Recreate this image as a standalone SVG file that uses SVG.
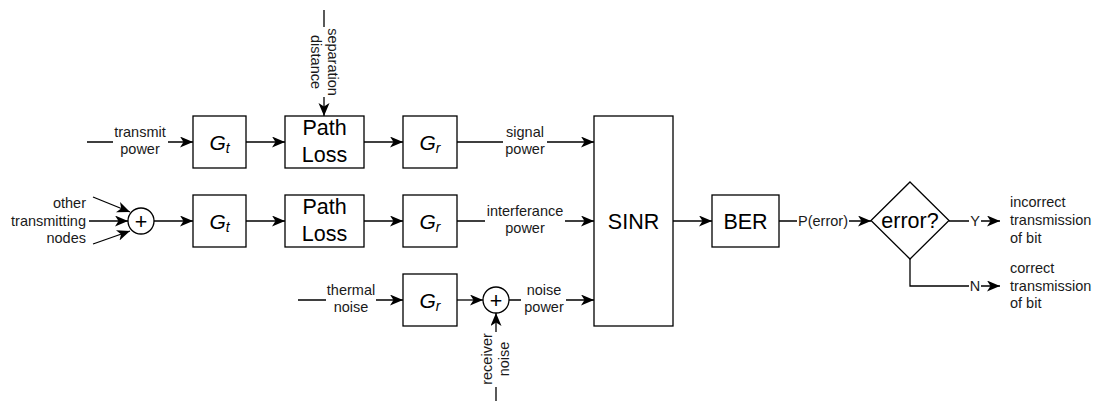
<svg xmlns="http://www.w3.org/2000/svg" width="1102" height="403" viewBox="0 0 1102 403">
<defs>
<marker id="arr" markerUnits="userSpaceOnUse" markerWidth="14" markerHeight="12" refX="13" refY="5.5" orient="auto">
<path d="M0,0 L13,5.5 L0,11 L3.5,5.5 Z" fill="#000"/>
</marker>
<style>
.box{fill:#fff;stroke:#000;stroke-width:1.3}
.ln{fill:none;stroke:#000;stroke-width:1.3}
.ar{fill:none;stroke:#000;stroke-width:1.3;marker-end:url(#arr)}
.s{font-family:"Liberation Sans",Arial,sans-serif;font-size:14.5px;fill:#1a1a1a}
.b{font-family:"Liberation Sans",Arial,sans-serif;font-size:21.5px;fill:#000}
.g{font-family:"Liberation Sans",Arial,sans-serif;font-size:21px;font-style:italic;fill:#000}
.m{text-anchor:middle}
.e{text-anchor:end}
</style>
</defs>
<rect width="1102" height="403" fill="#fff"/>

<g id="connectors">
<path class="ar" d="M87,142 L113,142 M168,142 L193,142"/>
<path class="ar" d="M246,142 L285,142"/>
<path class="ar" d="M364,142 L403,142"/>
<path class="ar" d="M457,142 L503,142 M547,142 L594,142"/>
<path class="ln" d="M324,10 L324,27"/>
<path class="ar" d="M324,97 L324,116"/>
<path class="ar" d="M93,197 L130,212"/>
<path class="ar" d="M89,221 L128,221"/>
<path class="ar" d="M93,244 L130,231"/>
<path class="ar" d="M154,221 L193,221"/>
<path class="ar" d="M246,221 L285,221"/>
<path class="ar" d="M364,221 L403,221"/>
<path class="ar" d="M457,221 L485,221 M565,221 L594,221"/>
<path class="ar" d="M298,300 L326,300 M376,300 L403,300"/>
<path class="ar" d="M457,300 L483,300"/>
<path class="ar" d="M509,300 L521,300 M566,300 L594,300"/>
<path class="ln" d="M496,387 L496,401"/>
<path class="ar" d="M496,332 L496,313"/>
<path class="ar" d="M673,221 L712,221"/>
<path class="ar" d="M779,221 L797,221 M849,221 L871,221"/>
<path class="ar" d="M949,221 L969,221 M981,221 L1000,221"/>
<path class="ar" d="M910,259 L910,286 L969,286 M981,286 L1000,286"/>
</g>

<g id="label-transmit-power"><text class="s m" x="140" y="137">transmit</text><text class="s m" x="140" y="154">power</text></g>
<g id="label-separation-distance" transform="translate(324,62) rotate(90)"><text class="s m" x="0" y="-4">separation</text><text class="s m" x="0" y="13">distance</text></g>
<g id="label-signal-power"><text class="s m" x="525" y="137">signal</text><text class="s m" x="525" y="154">power</text></g>
<g id="label-other-nodes"><text class="s e" x="86" y="208">other</text><text class="s e" x="86" y="226">transmitting</text><text class="s e" x="86" y="243">nodes</text></g>
<g id="label-interference-power"><text class="s m" x="525" y="216">interferance</text><text class="s m" x="525" y="233">power</text></g>
<g id="label-thermal-noise"><text class="s m" x="351" y="295">thermal</text><text class="s m" x="351" y="312">noise</text></g>
<g id="label-noise-power"><text class="s m" x="544" y="295">noise</text><text class="s m" x="544" y="312">power</text></g>
<g id="label-receiver-noise" transform="translate(496,359) rotate(-90)"><text class="s m" x="0" y="-4">receiver</text><text class="s m" x="0" y="13">noise</text></g>
<g id="label-perror"><text class="s m" x="823" y="226">P(error)</text></g>
<g id="label-y"><text class="s m" x="975" y="226">Y</text></g>
<g id="label-n"><text class="s m" x="975" y="291">N</text></g>
<g id="label-incorrect"><text class="s" x="1010" y="207">incorrect</text><text class="s" x="1010" y="225">transmission</text><text class="s" x="1010" y="243">of bit</text></g>
<g id="label-correct"><text class="s" x="1010" y="273">correct</text><text class="s" x="1010" y="291">transmission</text><text class="s" x="1010" y="308">of bit</text></g>

<g id="gt1"><rect class="box" x="193" y="116" width="53" height="52"/><text class="g m" x="219.5" y="149.5">G<tspan font-size="14" dy="3">t</tspan></text></g>
<g id="pathloss1"><rect class="box" x="285" y="116" width="79" height="52"/><text class="b m" x="324.5" y="135">Path</text><text class="b m" x="324.5" y="162">Loss</text></g>
<g id="gr1"><rect class="box" x="403" y="116" width="54" height="52"/><text class="g m" x="430" y="149.5">G<tspan font-size="14" dy="3">r</tspan></text></g>

<g id="sum1"><circle class="box" cx="141" cy="221" r="13"/><text class="b m" x="141" y="228.5" font-size="22">+</text></g>
<g id="gt2"><rect class="box" x="193" y="195" width="53" height="52"/><text class="g m" x="219.5" y="228.5">G<tspan font-size="14" dy="3">t</tspan></text></g>
<g id="pathloss2"><rect class="box" x="285" y="195" width="79" height="52"/><text class="b m" x="324.5" y="214">Path</text><text class="b m" x="324.5" y="241">Loss</text></g>
<g id="gr2"><rect class="box" x="403" y="195" width="54" height="52"/><text class="g m" x="430" y="228.5">G<tspan font-size="14" dy="3">r</tspan></text></g>

<g id="gr3"><rect class="box" x="403" y="274" width="54" height="52"/><text class="g m" x="430" y="307.5">G<tspan font-size="14" dy="3">r</tspan></text></g>
<g id="sum2"><circle class="box" cx="496" cy="300" r="13"/><text class="b m" x="496" y="307.5" font-size="22">+</text></g>

<g id="sinr"><rect class="box" x="594" y="116" width="79" height="210"/><text class="b m" x="633.5" y="228.5">SINR</text></g>
<g id="ber"><rect class="box" x="712" y="195" width="67" height="52"/><text class="b m" x="745.5" y="228.5">BER</text></g>
<g id="error"><path class="box" d="M910,182 L949,220.5 L910,259 L871,220.5 Z"/><text class="b m" x="910" y="228" font-size="22">error?</text></g>
</svg>
